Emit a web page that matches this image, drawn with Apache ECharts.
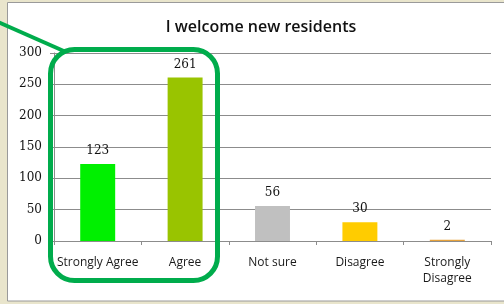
<!DOCTYPE html>
<html>
<head>
<meta charset="utf-8">
<script src="https://cdn.jsdelivr.net/npm/echarts@6/dist/echarts.min.js"></script>
<style>
  html, body { margin: 0; padding: 0; }
  #chart { width: 504px; height: 304px; }
</style>
</head>
<body>
<div id="chart"></div>
<script>
var categories = ['Strongly Agree', 'Agree', 'Not sure', 'Disagree', 'Strongly\nDisagree']
var counts = [123, 261, 56, 30, 2]
var yTicks = [0, 50, 100, 150, 200, 250, 300]

// one colour per bar, same order as categories
var barColors = ['#00f000', '#99c400', '#c0c0c0', '#ffcc00', '#e6a23c']

var myChart = echarts.init(document.getElementById('chart'))

var option = {
  backgroundColor: '#e9e5cc',
  animation: false,
  title: {
    text: 'I welcome new residents',
    left: 256,
    top: 14,
    textAlign: 'center',
    textStyle: {
      fontFamily: 'Open Sans',
      fontWeight: 600,
      fontSize: 16,
      color: '#111'
    }
  },
  grid: {
    left: 54,
    right: 13,
    top: 53,
    bottom: 63
  },
  xAxis: {
    type: 'category',
    data: categories,
    axisLine: { lineStyle: { color: '#8c8c8c' } },
    axisTick: { show: true, length: 4, lineStyle: { color: '#8c8c8c' } },
    axisLabel: {
      interval: 0,
      margin: 14,
      fontFamily: 'Open Sans',
      fontSize: 12,
      lineHeight: 16,
      color: '#1a1a1a'
    }
  },
  yAxis: {
    type: 'value',
    min: yTicks[0],
    max: yTicks[yTicks.length - 1],
    interval: 50,
    axisLine: { show: true, lineStyle: { color: '#8c8c8c' } },
    axisTick: { show: true, length: 4, lineStyle: { color: '#8c8c8c' } },
    splitLine: { lineStyle: { color: '#8c8c8c' } },
    axisLabel: {
      margin: 12,
      fontFamily: 'DejaVu Serif',
      fontSize: 12,
      color: '#111'
    }
  },
  series: [
    {
      type: 'bar',
      barWidth: '40%',
      data: counts.map(function (v, i) {
        return { value: v, itemStyle: { color: barColors[i] } }
      }),
      label: {
        show: true,
        position: 'top',
        distance: 7,
        fontFamily: 'DejaVu Serif',
        fontSize: 12,
        color: '#111'
      }
    }
  ],
  graphic: [
    {
      type: 'rect',
      z: -10,
      shape: { x: 7.5, y: 2.5, width: 500, height: 298.5 },
      style: { fill: '#ffffff', stroke: '#9a9a9a', lineWidth: 1 }
    },
    {
      type: 'rect',
      z: 100,
      shape: { x: 50.5, y: 49.5, width: 167, height: 231, r: 24 },
      style: { fill: 'none', stroke: '#00ac4c', lineWidth: 5 }
    },
    {
      type: 'line',
      z: 100,
      shape: { x1: -2, y1: 22, x2: 66, y2: 52 },
      style: { stroke: '#00ac4c', lineWidth: 4 }
    }
  ]
}

myChart.setOption(option)
</script>
</body>
</html>
